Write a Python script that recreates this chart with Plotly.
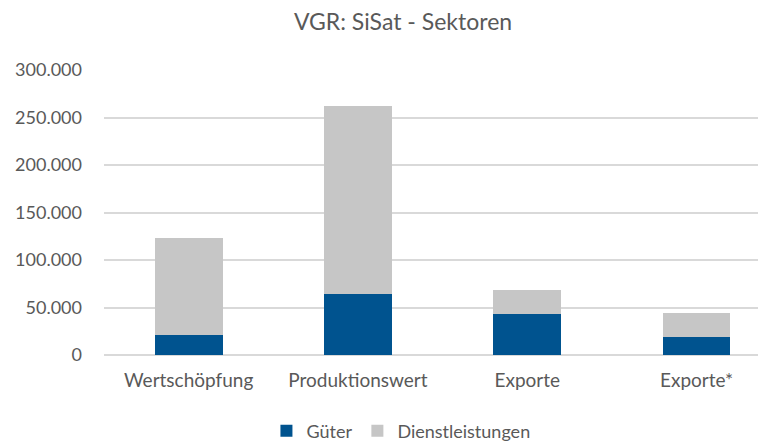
import plotly.graph_objects as go

# Sektoren der VGR
kategorien = ["Wertschöpfung", "Produktionswert", "Exporte", "Exporte*"]
gueter = [20800, 63700, 42900, 18700]
dienstleistungen = [102600, 197900, 25350, 25000]
y_ticks = [0, 50000, 100000, 150000, 200000, 250000, 300000]

font_family = "Lato, 'Open Sans', sans-serif"

# die Seite hat 8px Rand, daher ist die Figur etwas kleiner
W, H = 758, 434

fig = go.Figure()

fig.add_trace(go.Bar(x=kategorien, y=gueter, name="Güter",
                     marker=dict(color="#00538f", line=dict(width=0))))
fig.add_trace(go.Bar(x=kategorien, y=dienstleistungen, name="Dienstleistungen",
                     marker=dict(color="#c6c6c6", line=dict(width=0))))

fig.update_layout(
    width=W,
    height=H,
    barmode="stack",
    bargap=0.6,
    separators=",.",
    plot_bgcolor="white",
    paper_bgcolor="white",
    font=dict(family=font_family, size=19, color="#595959"),
    margin=dict(l=96, r=0, t=62, b=87, autoexpand=False),
    title=dict(text="VGR: SiSat - Sektoren", x=395 / W, xanchor="center",
               yref="container", y=1 - 14 / H, yanchor="middle",
               font=dict(family=font_family, size=23, color="#595959")),
    legend=dict(orientation="h", x=340 / W, xanchor="center",
                yref="container", y=11 / H, yanchor="middle",
                traceorder="normal", itemwidth=30,
                font=dict(size=18, color="#595959")),
)

fig.update_xaxes(range=[-0.5, 3.41], showgrid=False, ticks="",
                 showline=False, ticklabelstandoff=12)
fig.update_yaxes(range=[0, 300000], tickvals=y_ticks, tickformat=",d",
                 showgrid=True, gridcolor="#d9d9d9", gridwidth=1.5,
                 zeroline=True, zerolinecolor="#d9d9d9", zerolinewidth=1.5,
                 ticks="", ticklabelstandoff=21, tickfont=dict(size=18))

fig.write_html("out.html")
